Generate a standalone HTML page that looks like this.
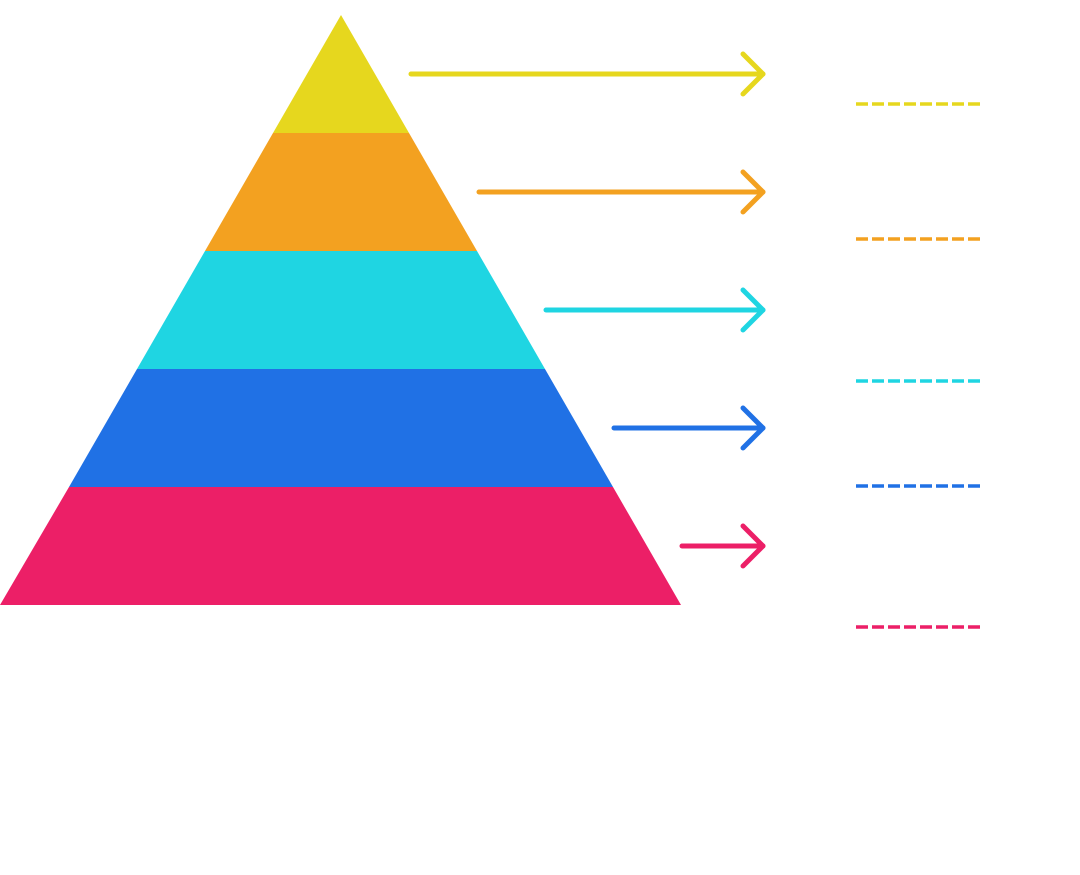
<!DOCTYPE html>
<html><head><meta charset="utf-8"><style>html,body{margin:0;padding:0;background:#fff}</style></head>
<body>
<svg width="1080" height="870" viewBox="0 0 1080 870" xmlns="http://www.w3.org/2000/svg">
<polygon points="341,15 409,133 273,133" fill="#e6d71e"/>
<polygon points="273,133 409,133 477,251 205,251" fill="#f3a120"/>
<polygon points="205,251 477,251 545,369 137,369" fill="#1fd5e2"/>
<polygon points="137,369 545,369 613,487 69,487" fill="#2071e5"/>
<polygon points="69,487 613,487 681,605 0,605" fill="#ec1f67"/>
<g fill="none" stroke-width="5" stroke-linecap="round" stroke-linejoin="round">
<g stroke="#e6d71e"><line x1="411" y1="74" x2="763" y2="74"/><polyline points="743,54 763,74 743,94"/></g>
<g stroke="#f3a120"><line x1="479" y1="192" x2="763" y2="192"/><polyline points="743,172 763,192 743,212"/></g>
<g stroke="#1fd5e2"><line x1="546" y1="310" x2="763" y2="310"/><polyline points="743,290 763,310 743,330"/></g>
<g stroke="#2071e5"><line x1="614" y1="428" x2="763" y2="428"/><polyline points="743,408 763,428 743,448"/></g>
<g stroke="#ec1f67"><line x1="682" y1="546" x2="763" y2="546"/><polyline points="743,526 763,546 743,566"/></g>
</g>
<g stroke-width="3.5" stroke-dasharray="12,4" fill="none">
<line x1="856" y1="104" x2="980" y2="104" stroke="#e6d71e"/>
<line x1="856" y1="239" x2="980" y2="239" stroke="#f3a120"/>
<line x1="856" y1="381" x2="980" y2="381" stroke="#1fd5e2"/>
<line x1="856" y1="486" x2="980" y2="486" stroke="#2071e5"/>
<line x1="856" y1="627" x2="980" y2="627" stroke="#ec1f67"/>
</g>
</svg>
</body></html>
